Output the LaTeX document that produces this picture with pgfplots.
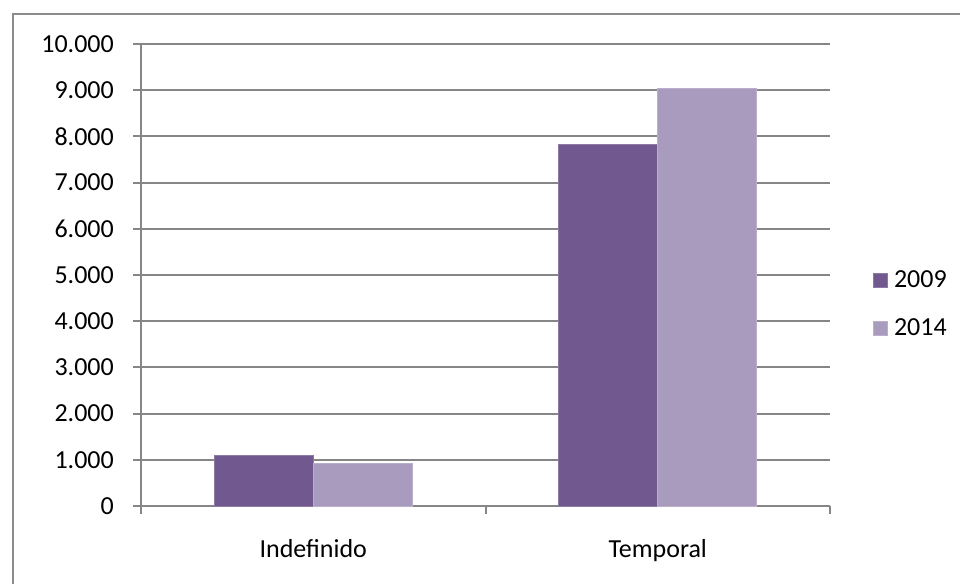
\documentclass[border=0pt]{standalone}
\usepackage{fontspec}
\setmainfont{Carlito}
\usepackage{pgfplots}
\pgfplotsset{compat=1.18}

\definecolor{ser09}{HTML}{71588F}
\definecolor{ser14}{HTML}{A99BBD}
\definecolor{linegray}{HTML}{868686}
\definecolor{framegray}{HTML}{8C8C8C}

\begin{document}
\begin{tikzpicture}[font=\fontsize{26}{31}\selectfont]
\useasboundingbox (0,0) rectangle (960pt,584pt);
% outer chart frame (cut off at right and bottom)
\draw[framegray, line width=2pt] (13pt,0pt) -- (13pt,570pt) -- (960pt,570pt);

\begin{axis}[
    at={(141pt,78pt)}, anchor=south west,
    scale only axis,
    width=689pt, height=462pt,
    font=\fontsize{26}{31}\selectfont,
    ybar=0pt, bar width=99pt,
    xmin=-0.5, xmax=1.5,
    ymin=0, ymax=10000,
    ytick={0,1000,...,10000},
    scaled y ticks=false,
    xtick={0,1},
    xticklabels={Indefinido, Temporal},
    minor xtick={-0.5,0.5,1.5},
    axis x line*=bottom, axis y line*=left,
    axis line style={linegray, line width=2pt, -},
    tick align=outside,
    major tick length=8pt, minor tick length=8pt,
    ytick style={linegray, line width=2pt},
    minor x tick style={linegray, line width=2pt},
    major x tick style={draw=none},
    ymajorgrids,
    grid style={linegray, line width=2pt},
    /pgf/number format/.cd, 1000 sep={.}, assume math mode=true,
    /pgfplots/.cd,
    yticklabel style={inner sep=0pt, xshift=-19pt},
    xticklabel style={inner sep=0pt, text height=18pt, text depth=0pt, yshift=-25pt},
    legend style={at={(1.0624,0.437)}, anchor=west, draw=none, fill=none,
        inner sep=0pt, row sep=30pt,
        nodes={inner sep=0pt, anchor=west},
        /tikz/every odd column/.append style={column sep=6pt}},
    legend image code/.code={\fill[#1] (0pt,-7pt) rectangle (14pt,7pt);},
]
\addplot[fill=ser09, draw=ser09!80!white, line width=0.8pt] coordinates {(0,1085) (1,7820)};
\addplot[fill=ser14, draw=ser14!80!white, line width=0.8pt] coordinates {(0,925) (1,9030)};
\legend{2009,2014}
\end{axis}
\end{tikzpicture}
\end{document}
